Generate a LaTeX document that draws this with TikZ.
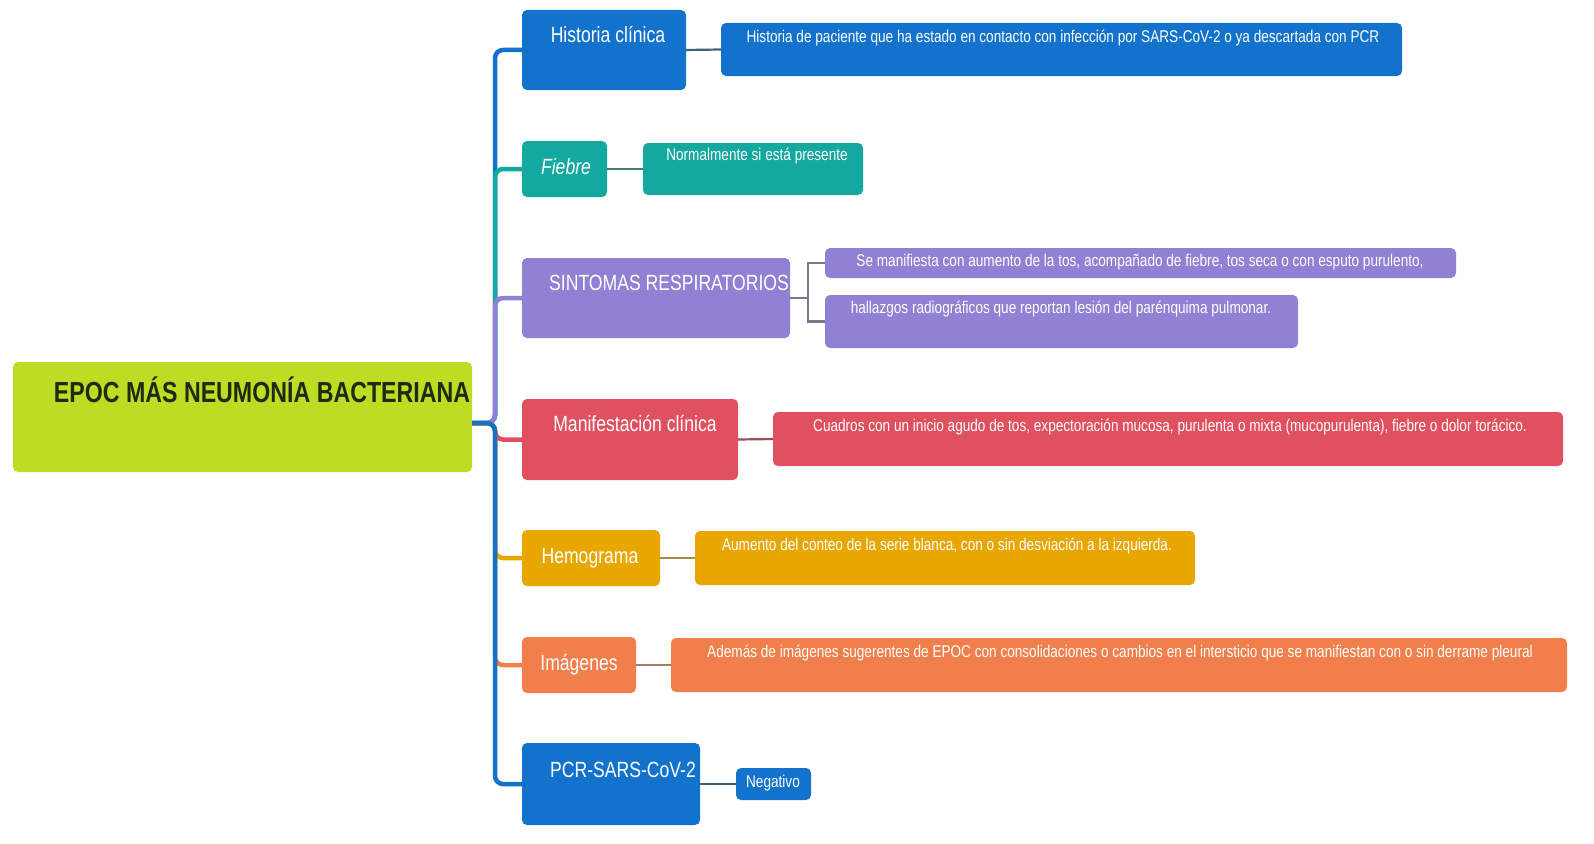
\documentclass[tikz,border=0pt]{standalone}
\usepackage{fontspec}
\setmainfont{Liberation Sans}[FakeStretch=0.8]
\definecolor{cblue}{HTML}{1373CC}
\definecolor{cteal}{HTML}{13A8A0}
\definecolor{cpurple}{HTML}{9181D4}
\definecolor{cgreen}{HTML}{BEDC23}
\definecolor{cred}{HTML}{E0505E}
\definecolor{camber}{HTML}{E8A700}
\definecolor{corange}{HTML}{F07F4C}
\definecolor{croottext}{HTML}{1F2A12}
\definecolor{lblue}{HTML}{3F6079}
\definecolor{lteal}{HTML}{3D7D78}
\definecolor{lpurple}{HTML}{7A7890}
\definecolor{lred}{HTML}{A04A55}
\definecolor{lamber}{HTML}{A38A4A}
\definecolor{lorange}{HTML}{B07A5A}
\begin{document}
\begin{tikzpicture}[x=1pt,y=-1pt,
  box/.style={rounded corners=5pt, draw=none, anchor=north west, inner sep=0pt, outer sep=0pt},
  lbl/.style={text=white, font=\fontsize{22}{26}\selectfont, anchor=mid, inner sep=0pt},
  dlbl/.style={text=white, font=\fontsize{17}{20}\selectfont, anchor=mid, inner sep=0pt},
  branch/.style={line width=4.5pt, rounded corners=8pt},
  link/.style={line width=2.2pt}]
\useasboundingbox[fill=white] (0,0) rectangle (1594,843);
% root
\node[box, fill=cgreen, minimum width=459pt, minimum height=110pt] (root) at (13,362) {};
% children
\node[box, fill=cblue, minimum width=164pt, minimum height=80pt] (hc) at (522,10) {};
\node[box, fill=cteal, minimum width=85pt, minimum height=56pt] (fb) at (522,141) {};
\node[box, fill=cpurple, minimum width=268pt, minimum height=80pt] (st) at (522,258) {};
\node[box, fill=cred, minimum width=216pt, minimum height=81pt] (mc) at (522,399) {};
\node[box, fill=camber, minimum width=138pt, minimum height=56pt] (hm) at (522,530) {};
\node[box, fill=corange, minimum width=114pt, minimum height=56pt] (im) at (522,637) {};
\node[box, fill=cblue, minimum width=178pt, minimum height=82pt] (pcr) at (522,743) {};
% details
\node[box, fill=cblue, minimum width=681pt, minimum height=53pt] (hcd) at (721,23) {};
\node[box, fill=cteal, minimum width=220pt, minimum height=52pt] (fbd) at (643,143) {};
\node[box, fill=cpurple, minimum width=631pt, minimum height=30pt] (sda) at (825,248) {};
\node[box, fill=cpurple, minimum width=473pt, minimum height=53pt] (sdb) at (825,295) {};
\node[box, fill=cred, minimum width=790pt, minimum height=54pt] (mcd) at (773,412) {};
\node[box, fill=camber, minimum width=500pt, minimum height=54pt] (hmd) at (695,531) {};
\node[box, fill=corange, minimum width=896pt, minimum height=54pt] (imd) at (671,638) {};
\node[box, fill=cblue, minimum width=75pt, minimum height=32pt] (neg) at (736,768) {};
% spine branches
\coordinate (sp) at (495,423);
\draw[branch, cblue] ([yshift=-6pt]root.east) -- (sp) |- (hc.west);
\draw[branch, cteal] ([yshift=-6pt]root.east) -- (sp) |- (fb.west);
\draw[branch, cpurple] ([yshift=-6pt]root.east) -- (sp) |- (st.west);
\draw[branch, cred] ([yshift=-6pt]root.east) -- (sp) |- (mc.west);
\draw[branch, camber] ([yshift=-6pt]root.east) -- (sp) |- (hm.west);
\draw[branch, corange] ([yshift=-6pt]root.east) -- (sp) |- (im.west);
\draw[branch, cblue] ([yshift=-6pt]root.east) -- (sp) |- (pcr.west);
% child-detail links
\draw[link, lblue] (hc.east) -- (hcd.west);
\draw[link, lteal] (fb.east) -- (fbd.west);
\coordinate (stb) at (808,298);
\draw[link, lpurple] (st.east) -- (stb);
\draw[link, lpurple] (sda.west) -| (stb) |- (sdb.west);
\draw[link, lred] (mc.east) -- (mcd.west);
\draw[link, lamber] (hm.east) -- (hmd.west);
\draw[link, lorange] (im.east) -- (imd.west);
\draw[link, lblue] (pcr.east) -- (neg.west);
% labels
\node[anchor=mid, inner sep=0pt, text=croottext, font=\fontsize{29}{34}\selectfont\bfseries] (roott) at (262,400) {EPOC MÁS NEUMONÍA BACTERIANA};
\node[lbl] (hct) at (608,40) {Historia clínica};
\node[lbl, font=\fontsize{22}{26}\selectfont\itshape] (fbt) at (566,172) {Fiebre};
\node[lbl] (stt) at (669,288) {SINTOMAS RESPIRATORIOS};
\node[lbl] (mct) at (635,429) {Manifestación clínica};
\node[lbl] (hmt) at (590,561) {Hemograma};
\node[lbl] (imt) at (579,668) {Imágenes};
\node[lbl] (pcrt) at (623,775) {PCR-SARS-CoV-2};
\node[dlbl] (hcdt) at (1063,40) {Historia de paciente que ha estado en contacto con infección por SARS-CoV-2 o ya descartada con PCR};
\node[dlbl] (fbdt) at (757,158) {Normalmente si está presente};
\node[dlbl] (sdat) at (1140,264) {Se manifiesta con aumento de la tos, acompañado de fiebre, tos seca o con esputo purulento,};
\node[dlbl] (sdbt) at (1061,311) {hallazgos radiográficos que reportan lesión del parénquima pulmonar.};
\node[dlbl] (mcdt) at (1170,429) {Cuadros con un inicio agudo de tos, expectoración mucosa, purulenta o mixta (mucopurulenta), fiebre o dolor torácico.};
\node[dlbl] (hmdt) at (947,548) {Aumento del conteo de la serie blanca, con o sin desviación a la izquierda.};
\node[dlbl] (imdt) at (1120,655) {Además de imágenes sugerentes de EPOC con consolidaciones o cambios en el intersticio que se manifiestan con o sin derrame pleural};
\node[dlbl] (negt) at (773,785) {Negativo};
\end{tikzpicture}
\end{document}
